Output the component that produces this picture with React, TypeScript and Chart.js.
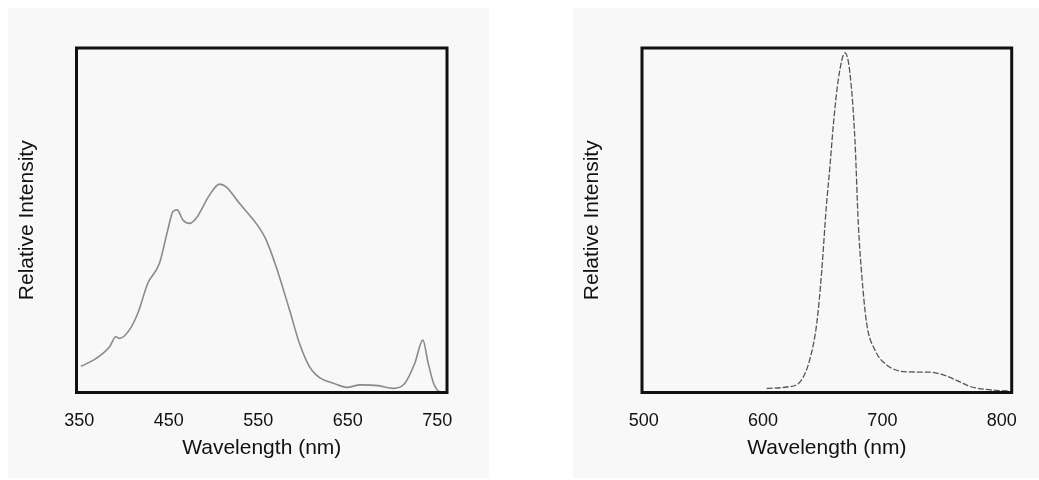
import React, { useEffect, useRef, useState } from "react";
import { Chart, registerables } from "chart.js";
Chart.register(...registerables);

// ---- Data ----
const leftWavelengths = [352, 369, 384, 391, 395, 406, 415.5, 426.7, 439.7, 449, 454.7, 459.5, 465.9, 473.2, 480.7, 495.6, 506.8, 514.2, 529.1, 551.5, 558.9, 570.1, 585, 596.1, 607.3, 614.8, 622, 634, 649, 664, 684, 701, 714, 725, 734, 740, 746, 753, 759];
const leftIntensity = [7.6, 9.9, 13.3, 16.2, 15.7, 18.1, 23, 31.7, 37.5, 47.2, 52.5, 53, 50.1, 49.1, 50.6, 57.3, 60.5, 59.7, 54.9, 47.7, 44.3, 36.5, 24, 14.3, 7.5, 5.1, 3.8, 2.7, 1.5, 2.2, 2.0, 1.2, 2.7, 8.5, 15.2, 8.5, 2.7, 0.2, 0];
const leftTicks = [350, 450, 550, 650, 750];

const rightWavelengths = [603, 620, 631, 639, 645, 649, 653, 656, 659, 663, 668.7, 672.8, 677, 679.8, 682.6, 686.8, 693.8, 703.6, 720.4, 740, 751, 765, 773, 787, 806.8];
const rightIntensity = [1.2, 1.6, 3.1, 9.4, 20.1, 34.6, 53.9, 65.5, 78.1, 90.7, 98.6, 92.7, 73.3, 49.1, 34.6, 20.1, 12.3, 8, 6, 5.9, 5.1, 3.1, 1.8, 0.9, 0.4];
const rightTicks = [500, 600, 700, 800];

const xTitle = "Wavelength (nm)";
const yTitle = "Relative Intensity";

const FONT = "'Liberation Sans', Arial, Helvetica, sans-serif";

const boxPlugin = {
  id: "boxBorder",
  afterDatasetsDraw(chart: any) {
    const { ctx, chartArea } = chart;
    ctx.save();
    ctx.strokeStyle = "#111";
    ctx.lineWidth = 3;
    ctx.strokeRect(chartArea.left, chartArea.top, chartArea.right - chartArea.left, chartArea.bottom - chartArea.top);
    ctx.restore();
  },
};

function Panel(p: any) {
  const ref = useRef<HTMLCanvasElement | null>(null);
  const [err, setErr] = useState("");
  useEffect(() => {
    if (!ref.current) return;
    let chart: any = null;
    try {
      const data = p.xs.map((x: number, i: number) => ({ x, y: p.ys[i] }));
      chart = new Chart(ref.current, {
        type: "line",
        data: {
          datasets: [
            {
              data,
              borderColor: p.color,
              borderWidth: p.lineWidth,
              borderDash: p.dash,
              pointRadius: 0,
              fill: false,
              cubicInterpolationMode: "monotone",
            },
          ],
        },
        options: {
          animation: false,
          responsive: false,
          maintainAspectRatio: false,
          plugins: { legend: { display: false }, tooltip: { enabled: false } },
          layout: { padding: { top: 40, right: p.padRight, bottom: 0, left: 0 } },
          scales: {
            x: {
              type: "linear",
              min: p.xMin,
              max: p.xMax,
              grid: { display: false },
              border: { display: false },
              afterBuildTicks: (axis: any) => {
                axis.ticks = p.ticks.map((v: number) => ({ value: v }));
              },
              afterFit: (axis: any) => {
                axis.height = 85.5;
              },
              ticks: {
                color: "#111",
                font: { family: FONT, size: 18 },
                padding: 10,
                maxRotation: 0,
                autoSkip: false,
              },
              title: {
                display: true,
                text: xTitle,
                color: "#111",
                font: { family: FONT, size: 21 },
                padding: { top: 0, bottom: 17.4 },
              },
            },
            y: {
              type: "linear",
              min: 0,
              max: 100,
              grid: { display: false },
              border: { display: false },
              ticks: { display: false },
              afterFit: (axis: any) => {
                axis.width = p.yAxisWidth;
              },
              title: {
                display: true,
                text: yTitle,
                color: "#111",
                font: { family: FONT, size: 21 },
                padding: { top: 6.4, bottom: 0 },
              },
            },
          },
        },
        plugins: [boxPlugin],
      });
    } catch (e: any) {
      setErr(String(e && e.stack ? e.stack : e));
    }
    return () => {
      if (chart) chart.destroy();
    };
  }, []);
  return (
    <div
      style={{
        position: "fixed",
        left: p.left,
        top: 8,
        width: p.width,
        height: p.height,
        background: "#f8f8f8",
      }}
    >
      <canvas ref={ref} width={p.width} height={p.height} style={{ display: "block", width: p.width, height: p.height }} />
      {err ? <div style={{ position: "absolute", top: 0, left: 0, fontSize: 10 }}>{err}</div> : null}
    </div>
  );
}

export default function App() {
  return (
    <div style={{ position: "relative", width: 1023, height: 464 }}>
      <Panel
        width={481}
        height={470}
        left={8}
        xs={leftWavelengths}
        ys={leftIntensity}
        ticks={leftTicks}
        xMin={347}
        xMax={761}
        yAxisWidth={68.5}
        padRight={42}
        color="#8a8a8a"
        lineWidth={1.6}
        dash={[]}
      />
      <Panel
        width={466}
        height={470}
        left={573}
        xs={rightWavelengths}
        ys={rightIntensity}
        ticks={rightTicks}
        xMin={498.5}
        xMax={808.4}
        yAxisWidth={69}
        padRight={27.3}
        color="#555555"
        lineWidth={1.3}
        dash={[6, 2]}
      />
    </div>
  );
}
